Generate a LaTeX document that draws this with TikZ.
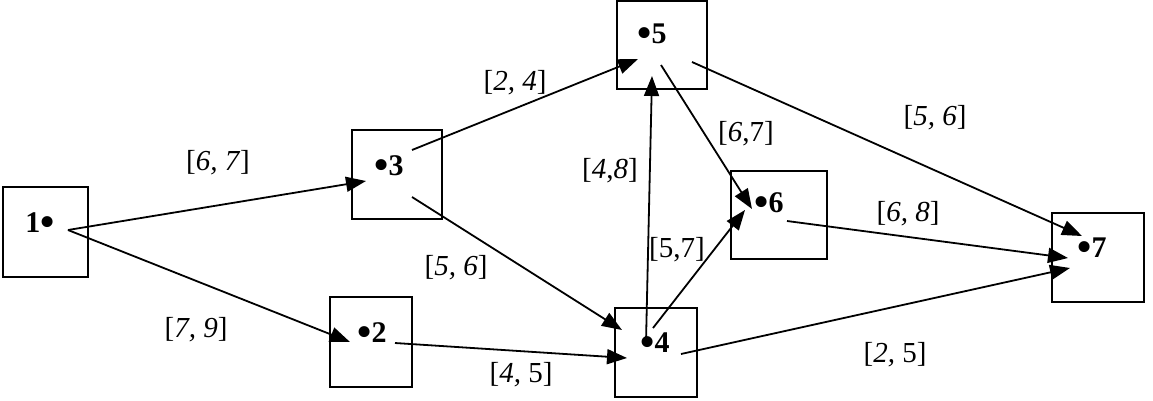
\documentclass[tikz,border=0pt]{standalone}
\usepackage{fontspec}
\setmainfont{Liberation Serif}
\usetikzlibrary{arrows.meta}
\newcommand{\bigdot}{\raisebox{-3pt}{\scalebox{1.35}{•}}}
\begin{document}
\begin{tikzpicture}[x=1pt,y=-1pt,
  box/.style={draw,line width=1.9pt,inner sep=0pt},
  vlabel/.style={font=\fontsize{30}{32}\selectfont\bfseries,inner sep=0pt},
  elabel/.style={font=\fontsize{29}{32}\selectfont,inner sep=0pt},
  conn/.style={line width=1.8pt,-{Triangle[length=20pt,width=15pt]}}]
\useasboundingbox (0,0) rectangle (1153,400);
% boxes
\node[box,minimum width=85pt,minimum height=90pt] (b1) at (45.5,232) {};
\node[box,minimum width=82pt,minimum height=90pt] (b2) at (371,342) {};
\node[box,minimum width=90pt,minimum height=89pt] (b3) at (397,174.5) {};
\node[box,minimum width=82pt,minimum height=89pt] (b4) at (656,352.5) {};
\node[box,minimum width=90pt,minimum height=88pt] (b5) at (662,45) {};
\node[box,minimum width=96pt,minimum height=88pt] (b6) at (779,215) {};
\node[box,minimum width=92pt,minimum height=89pt] (b7) at (1098,257.5) {};
% vertex labels
\node[vlabel,anchor=base] (t1) at (40,232) {1\bigdot};
\node[vlabel,anchor=base] (t2) at (372,342) {\bigdot2};
\node[vlabel,anchor=base] (t3) at (389,175) {\bigdot3};
\node[vlabel,anchor=base] (t4) at (655,352) {\bigdot4};
\node[vlabel,anchor=base] (t5) at (652,43) {\bigdot5};
\node[vlabel,anchor=base] (t6) at (769,212) {\bigdot6};
\node[vlabel,anchor=base] (t7) at (1092,257) {\bigdot7};
% connector end points
\coordinate (p1) at (68,230);
\coordinate (p3a) at (412,150);
\coordinate (p3b) at (412,197);
\coordinate (p2) at (395,343);
\coordinate (p4a) at (646,342);
\coordinate (p4b) at (653,328);
\coordinate (p4c) at (681,354);
\coordinate (p5a) at (661,65);
\coordinate (p5b) at (692,62);
\coordinate (p6) at (787,221);
\coordinate (q3) at (366,181);
\coordinate (q2) at (350,342);
\coordinate (q5a) at (638,59);
\coordinate (q5b) at (652,76);
\coordinate (q4a) at (622,330);
\coordinate (q4b) at (627,358);
\coordinate (q6a) at (745,210);
\coordinate (q6b) at (752,209);
\coordinate (q7a) at (1082,236);
\coordinate (q7b) at (1068,258);
\coordinate (q7c) at (1070,268);
% connectors
\draw[conn] (p1) -- (q3);
\draw[conn] (p1) -- (q2);
\draw[conn] (p3a) -- (q5a);
\draw[conn] (p3b) -- (q4a);
\draw[conn] (p2) -- (q4b);
\draw[conn] (p4a) -- (q5b);
\draw[conn] (p4b) -- (q6a);
\draw[conn] (p5a) -- (q6b);
\draw[conn] (p5b) -- (q7a);
\draw[conn] (p6) -- (q7b);
\draw[conn] (p4c) -- (q7c);
% edge labels
\node[elabel] (l13) at (218,163) {[\textit{6, 7}]};
\node[elabel] (l12) at (196,330) {[\textit{7, 9}]};
\node[elabel] (l35) at (515,83) {[\textit{2, 4}]};
\node[elabel] (l34) at (456,268) {[\textit{5, 6}]};
\node[elabel] (l24) at (521,375) {[\textit{4,} 5]};
\node[elabel] (l45) at (610,171) {[\textit{4},\textit{8}]};
\node[elabel] (l46) at (677,250) {[5,7]};
\node[elabel] (l56) at (746,134) {[\textit{6},7]};
\node[elabel] (l57) at (935,118) {[\textit{5, 6}]};
\node[elabel] (l67) at (908,214) {[\textit{6, 8}]};
\node[elabel] (l47) at (895,355) {[\textit{2,} 5]};
\end{tikzpicture}
\end{document}
